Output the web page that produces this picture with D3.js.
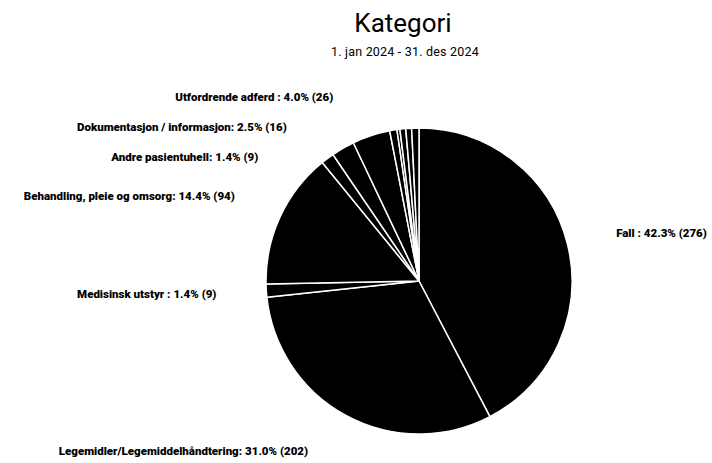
<!DOCTYPE html>
<html>
<head>
<meta charset="utf-8">
<script src="https://cdn.jsdelivr.net/npm/d3@7"></script>
<style>
  body { margin: 0; background: #fff; }
  text { font-family: Roboto, "Noto Sans", sans-serif; }
</style>
</head>
<body>
<svg></svg>
<script>
var width = 712;
var height = 463;

var categories = [
  "Fall",
  "Legemidler/Legemiddelhåndtering",
  "Medisinsk utstyr",
  "Behandling, pleie og omsorg",
  "Andre pasientuhell",
  "Dokumentasjon / informasjon",
  "Utfordrende adferd",
  "", "", "", "", ""
];
var counts = [276, 202, 9, 94, 9, 16, 26, 5, 2, 4, 4, 5];
// the label text is not uniform in the original, some use " : "
var separators = [" : ", ": ", " : ", ": ", ": ", ": ", " : ", "", "", "", "", ""];

var titleText = "Kategori";
var subtitleText = "1. jan 2024 - 31. des 2024";

var cx = 419;
var cy = 281;
var radius = 153;
var labelRadius = 203;
var labelSpacing = 30;
var labelTop = 97;
var labelBottom = 451;

var total = d3.sum(counts);
var data = categories.map((c, i) => ({ name: c, value: counts[i], sep: separators[i] }));

// prettier-ignore
var svg = d3.select("svg")
              .attr("width", width)
              .attr("height", height);

// prettier-ignore
svg.append("text")
   .attr("x", width / 2 + 47)
   .attr("y", 32)
   .attr("text-anchor", "middle")
   .style("font-size", "26px")
   .text(titleText);

// prettier-ignore
svg.append("text")
   .attr("x", width / 2 + 49)
   .attr("y", 56)
   .attr("text-anchor", "middle")
   .style("font-size", "12.5px")
   .style("letter-spacing", "0.2px")
   .text(subtitleText);

var pie = d3.pie()
            .sort(null)
            .value(d => d.value);

var arc = d3.arc()
            .innerRadius(0)
            .outerRadius(radius);

var arcs = pie(data);

var g = svg.append("g")
           .attr("transform", "translate(" + cx + "," + cy + ")");

// prettier-ignore
g.selectAll("path")
  .data(arcs)
  .enter()
    .append("path")
    .attr("d", arc)
    .attr("fill", "#000")
    .attr("stroke", "#fff")
    .attr("stroke-width", 1.5)
    .attr("stroke-linejoin", "round");

// labels: ideal y from the mid angle, then pushed apart on each side
var fmt = d3.format(".1f");
var labels = arcs
  .filter(a => a.data.name !== "")
  .map(a => {
    var mid = (a.startAngle + a.endAngle) / 2;
    return {
      arc: a,
      right: mid < Math.PI,
      y: -labelRadius * Math.cos(mid),
      text: a.data.name + a.data.sep + fmt(a.data.value / total * 100) + "% (" + a.data.value + ")"
    };
  });

[true, false].forEach(side => {
  var list = labels.filter(l => l.right === side).sort((a, b) => a.y - b.y);
  var minY = labelTop - cy;
  var maxY = labelBottom - cy;
  list.forEach((l, i) => {
    var lo = i === 0 ? minY : list[i - 1].y + labelSpacing;
    l.y = Math.max(l.y, lo);
  });
  for (var i = list.length - 1; i >= 0; i--) {
    var hi = i === list.length - 1 ? maxY : list[i + 1].y - labelSpacing;
    list[i].y = Math.min(list[i].y, hi);
  }
});

// prettier-ignore
g.selectAll("text.label")
  .data(labels)
  .enter()
    .append("text")
    .classed("label", true)
    .attr("x", d => {
      var dx = Math.sqrt(Math.max(0, labelRadius * labelRadius - d.y * d.y));
      return d.right ? dx : -dx;
    })
    .attr("y", d => d.y)
    .attr("dy", "0.35em")
    .attr("text-anchor", d => d.right ? "start" : "end")
    .style("font-size", "11.5px")
    .style("font-weight", "900")
    .text(d => d.text);
</script>
</body>
</html>
